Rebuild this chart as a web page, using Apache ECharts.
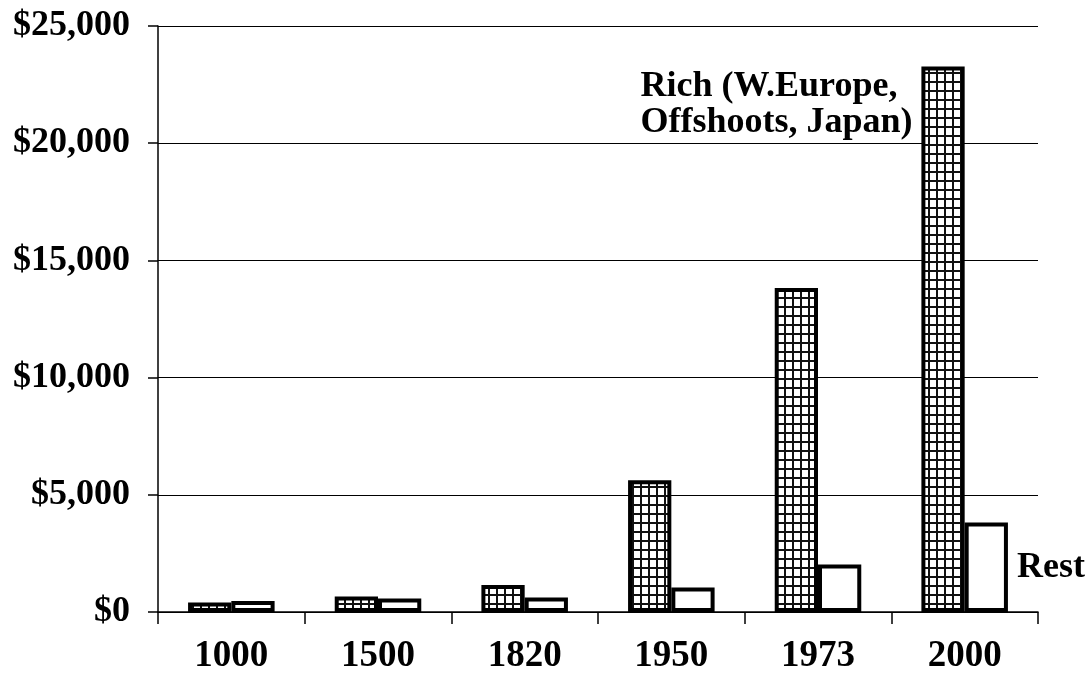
<!DOCTYPE html>
<html>
<head>
<meta charset="utf-8">
<script src="https://cdn.jsdelivr.net/npm/echarts@6/dist/echarts.min.js"></script>
<style>
  html, body { margin: 0; padding: 0; background: #fff; }
  #chart { width: 1090px; height: 683px; }
</style>
</head>
<body>
<div id="chart"></div>
<script>
// data (GDP per capita, 1990 $)
var years = ["1000", "1500", "1820", "1950", "1973", "2000"];
var richValues = [410, 665, 1150, 5620, 13820, 23270];
var restValues = [465, 580, 620, 1050, 2030, 3820];
var yTicks = [0, 5000, 10000, 15000, 20000, 25000];

var font = "'Liberation Serif', 'Times New Roman', serif";

// grid pattern for the rich bars
function makeGrid() {
  var c = document.createElement("canvas");
  c.width = 8;
  c.height = 9;
  var ctx = c.getContext("2d");
  ctx.fillStyle = "#fff";
  ctx.fillRect(0, 0, 8, 9);
  ctx.fillStyle = "#111";
  ctx.fillRect(0, 0, 2, 9); // vertical line
  ctx.fillRect(0, 0, 8, 2); // horizontal line
  return c;
}

var last = years.length - 1;
var richData = richValues.map(function (v, i) {
  var d = { value: v };
  if (i == last) {
    d.label = {
      show: true,
      position: [-281, 2],
      align: "left",
      verticalAlign: "top",
      formatter: "Rich (W.Europe,\nOffshoots, Japan)",
      lineHeight: 36,
      fontSize: 36,
      fontWeight: "bold",
      fontFamily: font,
      color: "#000",
    };
  }
  return d;
});
var restData = restValues.map(function (v, i) {
  var d = { value: v };
  if (i == last) {
    d.label = {
      show: true,
      position: "right",
      distance: 9,
      formatter: "Rest",
      fontSize: 36,
      fontWeight: "bold",
      fontFamily: font,
      color: "#000",
    };
  }
  return d;
});

var myChart = echarts.init(document.getElementById("chart"));
myChart.setOption({
  backgroundColor: "#fff",
  animation: false,
  grid: { left: 158, right: 52, top: 26, bottom: 71 },
  xAxis: {
    type: "category",
    data: years,
    axisLine: { lineStyle: { color: "#000", width: 1.5 } },
    axisTick: { show: true, length: 12, inside: false, lineStyle: { color: "#000", width: 1.5 } },
    axisLabel: {
      margin: 26,
      fontSize: 37,
      fontWeight: "bold",
      fontFamily: font,
      color: "#000",
    },
    splitLine: { show: false },
  },
  yAxis: {
    type: "value",
    min: yTicks[0],
    max: yTicks[yTicks.length - 1],
    interval: 5000,
    axisLine: { show: true, lineStyle: { color: "#000", width: 1.5 } },
    axisTick: { show: true, length: 10, lineStyle: { color: "#000", width: 1.5 } },
    axisLabel: {
      margin: 28,
      fontSize: 36,
      fontWeight: "bold",
      fontFamily: font,
      color: "#000",
      formatter: function (v) {
        return "$" + v.toLocaleString("en-US");
      },
    },
    splitLine: { show: true, lineStyle: { color: "#000", width: 1.2 } },
  },
  series: [
    {
      name: "Rich",
      type: "bar",
      data: richData,
      barGap: "0%",
      barCategoryGap: "41%",
      itemStyle: {
        color: { image: makeGrid(), repeat: "repeat" },
        borderColor: "#000",
        borderWidth: 4,
      },
    },
    {
      name: "Rest",
      type: "bar",
      data: restData,
      itemStyle: {
        color: "#fff",
        borderColor: "#000",
        borderWidth: 4,
      },
    },
  ],
});
</script>
</body>
</html>
